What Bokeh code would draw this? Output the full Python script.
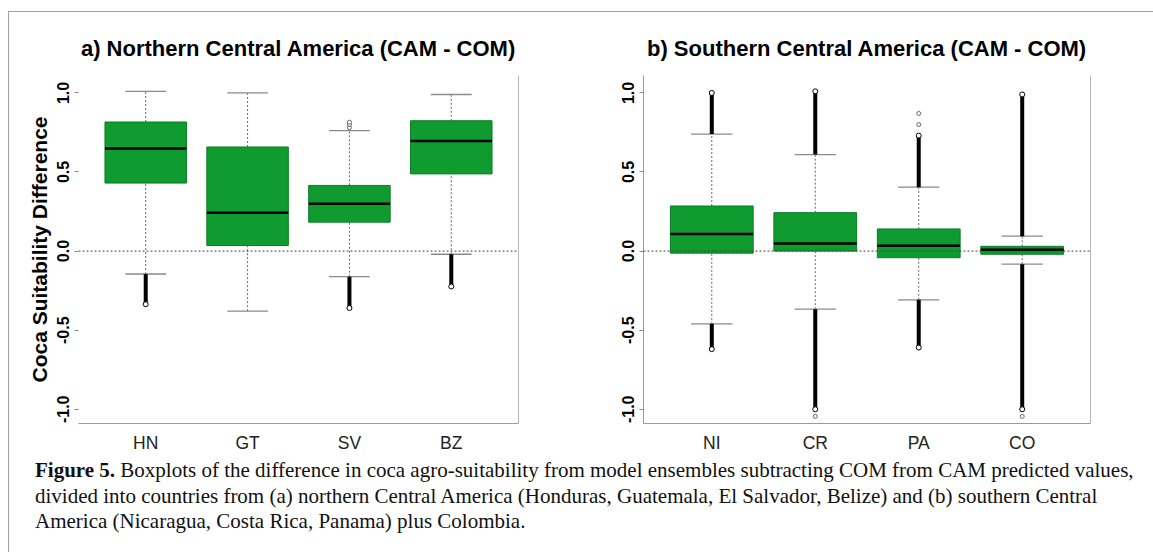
from bokeh.plotting import figure
from bokeh.models import Range1d, FixedTicker, LinearAxis, Span, Div, PrintfTickFormatter
from bokeh.layouts import row, column
from bokeh.embed import file_html
from bokeh.resources import INLINE

# ---------------- data ----------------
a_cats = ["HN", "GT", "SV", "BZ"]
a_lower_whisker = [-0.145, -0.38, -0.162, -0.02]
a_q1 = [0.43, 0.035, 0.183, 0.488]
a_median = [0.648, 0.243, 0.30, 0.696]
a_q3 = [0.816, 0.658, 0.415, 0.824]
a_upper_whisker = [1.01, 1.0, 0.762, 0.99]
a_out_low_min = [-0.336, None, -0.36, -0.224]
a_out_high_max = [None, None, None, None]
a_iso_cat = ["SV", "SV", "SV"]
a_iso_val = [0.78, 0.80, 0.815]

b_cats = ["NI", "CR", "PA", "CO"]
b_lower_whisker = [-0.46, -0.367, -0.308, -0.083]
b_q1 = [-0.013, 0.0, -0.042, -0.02]
b_median = [0.108, 0.048, 0.033, 0.008]
b_q3 = [0.285, 0.243, 0.14, 0.03]
b_upper_whisker = [0.74, 0.61, 0.404, 0.094]
b_out_low_min = [-0.62, -1.0, -0.61, -1.0]
b_out_high_max = [1.0, 1.01, 0.73, 0.99]
b_iso_cat = ["CR", "PA", "PA", "CO"]
b_iso_val = [-1.045, 0.80, 0.87, -1.045]

y_ticks = [-1.0, -0.5, 0.0, 0.5, 1.0]

GREEN = "#0f9b2f"
FONT = "Liberation Sans"


def panel(cats, lw, q1, med, q3, uw, olo, ohi, iso_cat, iso_val, title,
          ylabel, left_line, width, mbl, mbr):
    p = figure(width=width, height=443, output_backend="svg", toolbar_location=None,
               x_range=Range1d(0.34, 4.66), y_range=Range1d(-1.09, 1.11),
               min_border_left=mbl, min_border_right=mbr, min_border_top=63,
               min_border_bottom=27, background_fill_color="white",
               border_fill_color="white", outline_line_color=None)
    p.grid.visible = False
    xs = [i + 1 for i in range(len(cats))]
    half = 0.4
    cap = 0.2

    p.add_layout(Span(location=0, dimension="width", line_color="#444",
                      line_dash="2 2", line_width=1))

    # whiskers
    p.segment(xs, q3, xs, uw, line_color="#666", line_dash="2 2", line_width=1)
    p.segment(xs, lw, xs, q1, line_color="#666", line_dash="2 2", line_width=1)
    p.segment([x - cap for x in xs], uw, [x + cap for x in xs], uw,
              line_color="#8a8a8a", line_width=1.3)
    p.segment([x - cap for x in xs], lw, [x + cap for x in xs], lw,
              line_color="#8a8a8a", line_width=1.3)

    # outlier runs
    hx = [x for x, v in zip(xs, ohi) if v is not None]
    hy0 = [u for u, v in zip(uw, ohi) if v is not None]
    hy1 = [v for v in ohi if v is not None]
    lx = [x for x, v in zip(xs, olo) if v is not None]
    ly0 = [u for u, v in zip(lw, olo) if v is not None]
    ly1 = [v for v in olo if v is not None]
    if hx:
        p.segment(hx, hy0, hx, hy1, line_color="black", line_width=4)
        p.scatter(hx, hy1, marker="circle", size=5, fill_color="white", line_color="black")
    if lx:
        p.segment(lx, ly0, lx, ly1, line_color="black", line_width=4)
        p.scatter(lx, ly1, marker="circle", size=5, fill_color="white", line_color="black")
    if iso_cat:
        ix = [cats.index(c) + 1 for c in iso_cat]
        p.scatter(ix, iso_val, marker="circle", size=4, fill_color="white",
                  line_color="#444", line_width=0.8)

    # boxes
    p.vbar(x=xs, width=2 * half, bottom=q1, top=q3, fill_color=GREEN,
           line_color="#0b7d24", line_width=1)
    p.segment([x - half for x in xs], med, [x + half for x in xs], med,
              line_color="black", line_width=2.5)

    # axes
    xa = p.xaxis[0]
    xa.ticker = FixedTicker(ticks=xs)
    xa.major_label_overrides = {x: c for x, c in zip(xs, cats)}
    xa.major_tick_line_color = None
    xa.minor_tick_line_color = None
    xa.axis_line_color = "#9a9a9a"
    xa.major_label_text_font = FONT
    xa.major_label_text_font_size = "17.5px"
    xa.major_label_text_color = "#222222"
    xa.major_label_standoff = 3

    ya = p.yaxis[0]
    ya.ticker = FixedTicker(ticks=y_ticks)
    ya.formatter = PrintfTickFormatter(format="%.1f")
    ya.major_label_orientation = "vertical"
    ya.major_label_text_font = FONT
    ya.major_label_text_font_style = "bold"
    ya.major_label_text_font_size = "16px"
    ya.major_label_text_color = "black"
    ya.major_tick_in = 0
    ya.major_tick_out = 4
    ya.major_tick_line_color = "#888"
    ya.minor_tick_line_color = None
    ya.major_label_standoff = 5
    ya.axis_line_color = "#9a9a9a" if left_line else None
    if ylabel:
        ya.axis_label = ylabel
        ya.axis_label_text_font = FONT
        ya.axis_label_text_font_style = "bold"
        ya.axis_label_text_font_size = "21px"
        ya.axis_label_text_color = "black"
        ya.axis_label_standoff = 4

    ra = LinearAxis(ticker=FixedTicker(ticks=[]), major_label_text_font_size="0px",
                    axis_line_color="#b5b5b5", major_tick_line_color=None,
                    minor_tick_line_color=None)
    p.add_layout(ra, "right")

    p.title.text = title
    p.title.text_font = FONT
    p.title.text_font_style = "bold"
    p.title.text_font_size = "22px"
    p.title.align = "center"
    p.title.text_color = "black"
    p.title.standoff = 30
    return p


pa = panel(a_cats, a_lower_whisker, a_q1, a_median, a_q3, a_upper_whisker,
           a_out_low_min, a_out_high_max, a_iso_cat, a_iso_val,
           "a) Northern Central America (CAM - COM)", "Coca Suitability Difference",
           False, 571, 69, 62)
pb = panel(b_cats, b_lower_whisker, b_q1, b_median, b_q3, b_upper_whisker,
           b_out_low_min, b_out_high_max, b_iso_cat, b_iso_val,
           "b) Southern Central America (CAM - COM)", None,
           True, 573, 63, 63)

caption_html = (
    '<div style="padding:3px 0 0 26px; font-family:\'Liberation Serif\'; '
    'font-size:21px; line-height:25.5px; color:#111; white-space:nowrap;">'
    '<b>Figure 5.</b> Boxplots of the difference in coca agro-suitability from model '
    'ensembles subtracting COM from CAM predicted values,<br>'
    'divided into countries from (a) northern Central America (Honduras, Guatemala, '
    'El Salvador, Belize) and (b) southern Central<br>'
    'America (Nicaragua, Costa Rica, Panama) plus Colombia.</div>'
)
cap = Div(text=caption_html, width=1144, height=97, margin=(0, 0, 0, 0))

layout = column(row(pa, pb, margin=(0, 0, 0, 0)), cap,
                margin=(11, 0, 0, 8),
                styles={"border-top": "1px solid #a0a0a0",
                        "border-left": "1px solid #a0a0a0"})

open("out.html", "w").write(file_html(layout, INLINE))
